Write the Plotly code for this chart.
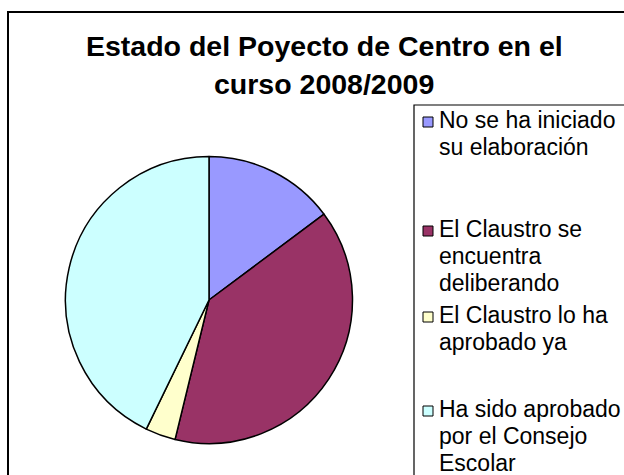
import textwrap
import plotly.graph_objects as go

W, H = 624, 475

categories = [
    "No se ha iniciado su elaboración",
    "El Claustro se encuentra deliberando",
    "El Claustro lo ha aprobado ya",
    "Ha sido aprobado por el Consejo Escolar",
]
values = [14.8, 39.0, 3.4, 42.8]
colors = ["#9999FF", "#993366", "#FFFFCC", "#CCFFFF"]
title_lines = ["Estado del Poyecto de Centro en el", "curso 2008/2009"]

FONT = "Liberation Sans, Arial, sans-serif"


def px(x):
    return x / W


def py(y):
    return 1 - y / H


# pie geometry (pixels)
cx, cy, r = 209, 300, 143.5

fig = go.Figure(
    go.Pie(
        labels=categories,
        values=values,
        sort=False,
        direction="clockwise",
        rotation=0,
        marker=dict(colors=colors, line=dict(color="black", width=1.5)),
        textinfo="none",
        hoverinfo="label+percent",
        showlegend=False,
        domain=dict(x=[px(cx - r), px(cx + r)], y=[py(cy + r), py(cy - r)]),
    )
)

shapes = [
    # outer chart frame
    dict(type="rect", xref="paper", yref="paper", x0=px(8), x1=px(700), y0=py(12), y1=py(560),
         line=dict(color="black", width=2), fillcolor="rgba(0,0,0,0)", layer="below"),
    # legend frame
    dict(type="rect", xref="paper", yref="paper", x0=px(414), x1=px(700), y0=py(105), y1=py(560),
         line=dict(color="black", width=1.2), fillcolor="rgba(0,0,0,0)", layer="below"),
]

annotations = []
# title lines (centre y in pixels)
for ln, yc in zip(title_lines, [46, 84]):
    annotations.append(dict(
        x=px(324), y=py(yc), xref="paper", yref="paper",
        xanchor="center", yanchor="middle", text="<b>" + ln + "</b>", showarrow=False,
        font=dict(family=FONT, size=28.5, color="black"),
    ))

# legend entries: first baseline of each entry (pixels)
entry_tops = [130, 239, 325, 419]
line_gap = 27
for cat, col, top in zip(categories, colors, entry_tops):
    lines = textwrap.wrap(cat, 17)
    shapes.append(dict(type="rect", xref="paper", yref="paper",
                       x0=px(423), x1=px(433), y0=py(top - 13), y1=py(top - 3),
                       line=dict(color="black", width=1), fillcolor=col))
    for i, ln in enumerate(lines):
        annotations.append(dict(
            x=px(437), y=py(top + i * line_gap + 5), xref="paper", yref="paper",
            xanchor="left", yanchor="bottom", text=ln, showarrow=False,
            font=dict(family=FONT, size=23, color="black"),
        ))

fig.update_layout(
    width=W, height=H,
    margin=dict(l=0, r=0, t=0, b=0),
    paper_bgcolor="white",
    plot_bgcolor="white",
    font=dict(family=FONT),
    shapes=shapes,
    annotations=annotations,
)

fig.write_html(
    "out.html",
    config={"displayModeBar": False},
    post_script="document.body.style.margin='0';document.body.style.overflow='hidden';",
)
